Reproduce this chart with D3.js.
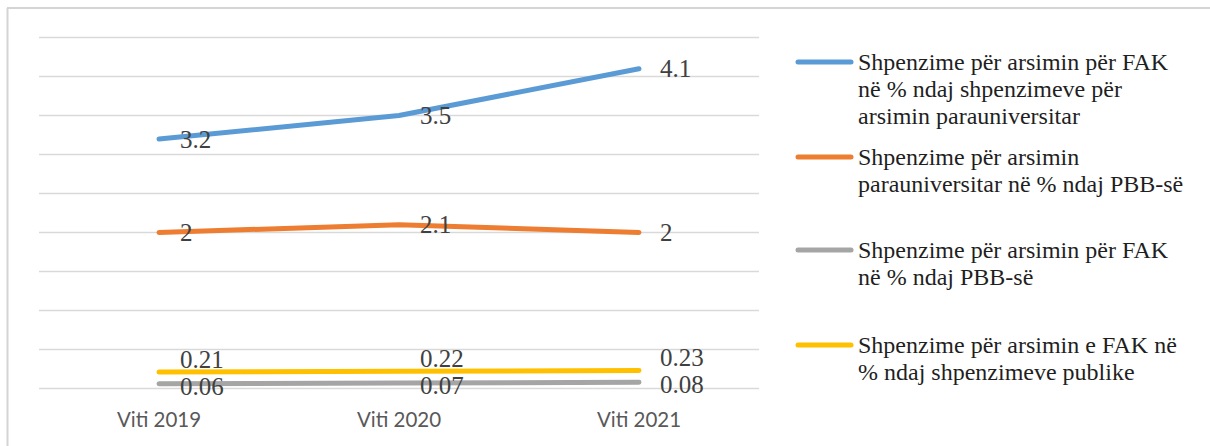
<!DOCTYPE html>
<html><head><meta charset="utf-8">
<script src="https://cdn.jsdelivr.net/npm/d3@7"></script>
<style>html,body{margin:0;padding:0;background:#fff;}svg{display:block;}</style>
</head><body>
<svg id="c" width="1210" height="446"></svg>
<script>
const categories = ["Viti 2019", "Viti 2020", "Viti 2021"];
const seriesNames = [
  ["Shpenzime për arsimin për FAK", "në % ndaj shpenzimeve për", "arsimin parauniversitar"],
  ["Shpenzime për arsimin", "parauniversitar në % ndaj PBB-së"],
  ["Shpenzime për arsimin për FAK", "në % ndaj PBB-së"],
  ["Shpenzime për arsimin e FAK në", "% ndaj shpenzimeve publike"]
];
const blueValues = [3.2, 3.5, 4.1];
const orangeValues = [2, 2.1, 2];
const grayValues = [0.06, 0.07, 0.08];
const yellowValues = [0.21, 0.22, 0.23];
const seriesColors = ["#5B9BD5", "#ED7D31", "#A5A5A5", "#FFC000"];
const yTicks = [0, 0.5, 1, 1.5, 2, 2.5, 3, 3.5, 4, 4.5];

const series = [blueValues, orangeValues, grayValues, yellowValues];
const labelDy = [0, 0, 2, -13];

const svg = d3.select("#c");
// frame
svg.append("line").attr("x1", 7.5).attr("x2", 7.5).attr("y1", 8).attr("y2", 446).attr("stroke", "#d4d4d4").attr("stroke-width", 2);
svg.append("line").attr("x1", 7).attr("x2", 1210).attr("y1", 8).attr("y2", 8).attr("stroke", "#d4d4d4").attr("stroke-width", 2);

const x = d3.scaleBand().domain(categories).range([39, 759]);
const y = d3.scaleLinear().domain([0, 4.5]).range([388.5, 37.5]);

// gridlines
svg.append("g").selectAll("line").data(yTicks).join("line")
  .attr("x1", 39).attr("x2", 759)
  .attr("y1", d => y(d)).attr("y2", d => y(d))
  .attr("stroke", "#d9d9d9").attr("stroke-width", 1.5);

// x axis labels
const xAxis = d3.axisBottom(x).tickSize(0).tickPadding(0);
const gx = svg.append("g").attr("transform", "translate(0,412)").call(xAxis);
gx.select(".domain").remove();
gx.selectAll("text").attr("font-family", "Lato, 'Open Sans', sans-serif").attr("font-size", 20.5).attr("fill", "#595959").attr("dy", "0.71em");

const cx = d => x(d) + x.bandwidth() / 2;
const line = d3.line().x((d, i) => cx(categories[i])).y(d => y(d));

series.forEach((vals, s) => {
  svg.append("path").datum(vals).attr("d", line)
    .attr("fill", "none").attr("stroke", seriesColors[s]).attr("stroke-width", 5)
    .attr("stroke-linecap", "round").attr("stroke-linejoin", "round");
});
series.forEach((vals, s) => {
  svg.append("g").selectAll("text").data(vals).join("text")
    .attr("x", (d, i) => cx(categories[i]) + 21)
    .attr("y", d => y(d) + labelDy[s])
    .attr("dy", "0.35em")
    .attr("font-family", "'Liberation Serif', 'Times New Roman', serif")
    .attr("font-size", 25).attr("fill", "#404040")
    .text(d => d);
});

// legend
const legendY = [62, 157, 250, 345];
const lg = svg.append("g");
seriesNames.forEach((lines, s) => {
  lg.append("line").attr("x1", 798).attr("x2", 851).attr("y1", legendY[s]).attr("y2", legendY[s])
    .attr("stroke", seriesColors[s]).attr("stroke-width", 5).attr("stroke-linecap", "round");
  lines.forEach((t, k) => {
    lg.append("text").attr("x", 858).attr("y", legendY[s] + k * 26.7).attr("dy", "0.35em")
      .attr("font-family", "'Liberation Serif', 'Times New Roman', serif")
      .attr("font-size", 24).attr("fill", "#1f1f1f").text(t);
  });
});
</script>
</body></html>
